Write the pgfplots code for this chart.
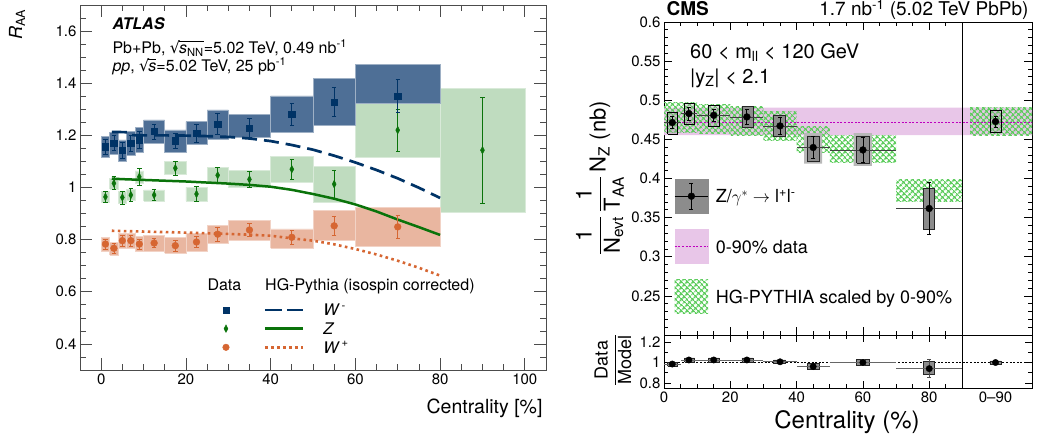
\documentclass[border=0pt]{standalone}
\usepackage{fontspec}
\setmainfont{TeX Gyre Heros}
\newfontfamily\dejavu{DejaVu Sans}
\usepackage{amsmath}
\usepackage{pgfplots}
\pgfplotsset{compat=1.18}
\usetikzlibrary{patterns.meta}

\definecolor{wmc}{RGB}{0,51,102}
\definecolor{wmbox}{RGB}{78,111,150}
\definecolor{zc}{RGB}{10,115,10}
\definecolor{zbox}{RGB}{191,220,191}
\definecolor{wpc}{RGB}{214,102,50}
\definecolor{wpbox}{RGB}{233,182,160}
\definecolor{bandc}{RGB}{232,198,232}
\definecolor{bandline}{RGB}{190,0,190}
\definecolor{hatchc}{RGB}{95,205,95}

\newcommand{\sysbox}[5]{\addplot[forget plot,#1] coordinates {(#2,#4) (#3,#4) (#3,#5) (#2,#5) (#2,#4)};}
\newcommand{\tsqrt}[1]{\begingroup\setbox0=\hbox{#1}{\dejavu\symbol{"221A}}\kern-0.06em\rlap{\rule[0.76em]{\wd0}{0.055em}}\box0\endgroup}

\tikzset{
 hatchsty/.style={pattern={Hatch[angle=45,distance=4pt,line width=1.4pt]}, pattern color=hatchc, draw=none},
 wmb/.style={fill=wmbox, draw=wmbox!55!white, line width=0.5pt},
 zb/.style={fill=zbox, draw=zbox!60!white, line width=0.5pt},
 wpb/.style={fill=wpbox, draw=wpbox!60!white, line width=0.5pt},
 cmsl/.style={fill=black!40, fill opacity=0.3, draw=black, line width=0.7pt},
 cmsf/.style={fill=black!45, draw=black!85, line width=0.7pt},
 cmso/.style={fill=black!28, draw=none},
}

\begin{document}
\begin{tikzpicture}
\useasboundingbox (0pt,0pt) rectangle (1037pt,439pt);

%================ ATLAS panel
\begin{axis}[
 at={(80pt,69pt)}, anchor=south west, scale only axis, width=466pt, height=365pt,
 xmin=-5, xmax=105, ymin=0.3, ymax=1.7,
 xtick={0,20,40,60,80,100},
 minor xtick={5,10,15,25,30,35,45,50,55,65,70,75,85,90,95},
 ytick={0.4,0.6,0.8,1,1.2,1.4,1.6},
 yticklabels={0.4,0.6,0.8,1,1.2,1.4,1.6},
 minor ytick={0.35,0.45,0.5,0.55,0.65,0.7,0.75,0.85,0.9,0.95,1.05,1.1,1.15,1.25,1.3,1.35,1.45,1.5,1.55,1.65},
 xtick pos=both, ytick pos=both, tick align=inside,
 major tick length=12pt, minor tick length=6pt,
 tick style={black!70, line width=0.7pt},
 axis line style={black!70, line width=0.8pt},
 tick label style={font=\fontsize{15}{18}\selectfont},
 /pgf/number format/assume math mode=true,
 legend style={draw=none, fill=none, inner sep=0pt, outer sep=0pt,
   at={(0.3062,0.1801)}, anchor=north west, font=\fontsize{16}{19}\selectfont,
   nodes={inner sep=0pt, text height=11.5pt, text depth=0pt},
   column sep=19pt, row sep=7.15pt},
 legend cell align=left,
]
% Z systematic boxes
\sysbox{zb}{0}{2}{0.943}{0.985}
\sysbox{zb}{2}{4}{0.994}{1.036}
\sysbox{zb}{4}{6}{0.940}{0.985}
\sysbox{zb}{6}{8}{0.950}{0.992}
\sysbox{zb}{8}{10}{1.017}{1.064}
\sysbox{zb}{10}{15}{0.949}{0.991}
\sysbox{zb}{15}{20}{1.049}{1.100}
\sysbox{zb}{20}{25}{0.949}{1.000}
\sysbox{zb}{25}{30}{1.017}{1.077}
\sysbox{zb}{30}{40}{1.000}{1.067}
\sysbox{zb}{40}{50}{1.022}{1.119}
\sysbox{zb}{50}{60}{0.943}{1.081}
\sysbox{zb}{60}{80}{1.115}{1.322}
\sysbox{zb}{80}{100}{0.905}{1.380}
% W+ boxes
\sysbox{wpb}{0}{2}{0.754}{0.809}
\sysbox{wpb}{2}{4}{0.742}{0.790}
\sysbox{wpb}{4}{6}{0.768}{0.824}
\sysbox{wpb}{6}{8}{0.768}{0.824}
\sysbox{wpb}{8}{10}{0.754}{0.813}
\sysbox{wpb}{10}{15}{0.757}{0.815}
\sysbox{wpb}{15}{20}{0.748}{0.809}
\sysbox{wpb}{20}{25}{0.757}{0.824}
\sysbox{wpb}{25}{30}{0.786}{0.856}
\sysbox{wpb}{30}{40}{0.796}{0.875}
\sysbox{wpb}{40}{50}{0.767}{0.841}
\sysbox{wpb}{50}{60}{0.796}{0.911}
\sysbox{wpb}{60}{80}{0.773}{0.924}
% W- boxes
\sysbox{wmb}{0}{2}{1.115}{1.196}
\sysbox{wmb}{2}{4}{1.128}{1.211}
\sysbox{wmb}{4}{6}{1.102}{1.183}
\sysbox{wmb}{6}{8}{1.124}{1.215}
\sysbox{wmb}{8}{10}{1.134}{1.230}
\sysbox{wmb}{10}{15}{1.170}{1.259}
\sysbox{wmb}{15}{20}{1.134}{1.221}
\sysbox{wmb}{20}{25}{1.166}{1.253}
\sysbox{wmb}{25}{30}{1.185}{1.298}
\sysbox{wmb}{30}{40}{1.192}{1.281}
\sysbox{wmb}{40}{50}{1.211}{1.351}
\sysbox{wmb}{50}{60}{1.240}{1.418}
\sysbox{wmb}{60}{80}{1.322}{1.473}
% HG-Pythia curves
\addplot[forget plot, zc, line width=2.5pt] coordinates {(2.5,1.034) (5,1.032) (10,1.029) (15,1.026) (20,1.023) (25,1.019) (30,1.015) (35,1.010) (40,1.003) (45,0.991) (50,0.975) (55,0.957) (60,0.935) (65,0.908) (70,0.877) (75,0.848) (80,0.818)};
\addplot[forget plot, wmc, line width=2.7pt, dash pattern=on 15pt off 7pt] coordinates {(2.5,1.213) (6.8,1.212) (7.2,1.201) (10,1.200) (15,1.200) (20,1.199) (25,1.197) (30,1.194) (35,1.188) (40,1.178) (45,1.163) (50,1.145) (55,1.122) (60,1.096) (65,1.067) (70,1.035) (75,0.999) (80,0.960)};
\addplot[forget plot, wpc, line width=2.6pt, dash pattern=on 2.6pt off 3.4pt] coordinates {(2.5,0.834) (10,0.831) (20,0.827) (30,0.822) (35,0.819) (40,0.815) (45,0.805) (50,0.796) (55,0.782) (60,0.764) (65,0.743) (70,0.719) (75,0.692) (80,0.662)};
% data points
\addplot[forget plot, only marks, mark=diamond*, mark size=3.8pt, mark options={xscale=0.7}, zc,
  error bars/.cd, y dir=both, y explicit, error bar style={line width=0.7pt},
  error mark options={rotate=90, mark size=2.2pt, line width=0.7pt, xscale=1}]
 table[x=c, y=r, y error=e] {
c r e
1 0.964 0.020
3 1.016 0.025
5 0.962 0.025
7 0.971 0.025
9 1.041 0.032
12.5 0.971 0.020
17.5 1.074 0.026
22.5 0.975 0.028
27.5 1.047 0.029
35 1.031 0.031
45 1.070 0.038
55 1.013 0.053
70 1.220 0.080
90 1.143 0.202
};
\addplot[forget plot, only marks, mark=*, mark size=3.4pt, wpc,
  error bars/.cd, y dir=both, y explicit, error bar style={line width=0.7pt},
  error mark options={rotate=90, mark size=2.2pt, line width=0.7pt}]
 table[x=c, y=r, y error=e] {
c r e
1 0.783 0.020
3 0.767 0.020
5 0.796 0.020
7 0.796 0.020
9 0.783 0.020
12.5 0.787 0.018
17.5 0.777 0.020
22.5 0.791 0.022
27.5 0.821 0.028
35 0.837 0.025
45 0.809 0.028
55 0.853 0.037
70 0.849 0.043
};
\addplot[forget plot, only marks, mark=square*, mark size=3.2pt, wmc,
  error bars/.cd, y dir=both, y explicit, error bar style={line width=0.7pt},
  error mark options={rotate=90, mark size=2.2pt, line width=0.7pt}]
 table[x=c, y=r, y error=e] {
c r e
1 1.157 0.029
3 1.171 0.030
5 1.143 0.030
7 1.169 0.030
9 1.183 0.031
12.5 1.215 0.029
17.5 1.179 0.029
22.5 1.208 0.035
27.5 1.243 0.040
35 1.228 0.037
45 1.281 0.041
55 1.328 0.057
70 1.351 0.062
};
% legend
\addlegendimage{legend image code/.code={
  \draw[wmc, fill=wmc, mark=square*, mark size=3.2pt] plot coordinates {(0pt,0pt)};
  \draw[wmc, line width=2.6pt, dash pattern=on 17pt off 5pt] (39pt,0pt) -- (77pt,0pt);}}
\addlegendentry{\textit{W}\textsuperscript{\,-}}
\addlegendimage{legend image code/.code={
  \draw[zc, fill=zc, mark=diamond*, mark size=3.8pt, mark options={xscale=0.7}] plot coordinates {(0pt,0pt)};
  \draw[zc, line width=2.5pt] (39pt,0pt) -- (77pt,0pt);}}
\addlegendentry{\textit{Z}}
\addlegendimage{legend image code/.code={
  \draw[wpc, fill=wpc, mark=*, mark size=3.3pt] plot coordinates {(0pt,0pt)};
  \draw[wpc, line width=2.5pt, dash pattern=on 2.6pt off 3.4pt] (39pt,0pt) -- (77pt,0pt);}}
\addlegendentry{\textit{W}\textsuperscript{\,+}}
\end{axis}

%================ CMS upper panel
\begin{axis}[
 at={(664pt,104pt)}, anchor=south west, scale only axis, width=368pt, height=313pt,
 xmin=0, xmax=111, ymin=0.2, ymax=0.6,
 xtick={0,20,40,60,80}, xticklabels={},
 minor xtick={5,10,15,25,30,35,45,50,55,65,70,75,85},
 ytick={0.2,0.25,0.3,0.35,0.4,0.45,0.5,0.55,0.6},
 yticklabels={,0.25,0.3,0.35,0.4,0.45,0.5,0.55,0.6},
 minor y tick num=4,
 xtick pos=both, ytick pos=both, tick align=inside,
 major tick length=8pt, minor tick length=4pt,
 tick style={black, line width=0.7pt},
 axis line style={black, line width=0.8pt},
 tick label style={font=\fontsize{15}{18}\selectfont},
 /pgf/number format/assume math mode=true,
 legend style={draw=none, fill=none, inner sep=0pt, outer sep=0pt,
   at={(0.028,0.4984)}, anchor=north west, font=\fontsize{18}{21}\selectfont,
   nodes={inner sep=0pt, text height=13pt, text depth=0pt},
   column sep=7.3pt, row sep=16pt},
 legend cell align=left,
]
% 0-90% band
\sysbox{fill=bandc, draw=none}{0}{111}{0.4553}{0.4906}
% HG-PYTHIA scaled (hatched)
\sysbox{hatchsty}{0}{5}{0.459}{0.497}
\sysbox{hatchsty}{5}{10}{0.459}{0.497}
\sysbox{hatchsty}{10}{20}{0.457}{0.494}
\sysbox{hatchsty}{20}{30}{0.455}{0.492}
\sysbox{hatchsty}{30}{40}{0.449}{0.485}
\sysbox{hatchsty}{40}{50}{0.433}{0.466}
\sysbox{hatchsty}{50}{70}{0.421}{0.455}
\sysbox{hatchsty}{70}{90}{0.370}{0.399}
\sysbox{hatchsty}{92.3}{111}{0.455}{0.491}
\addplot[forget plot, bandline, line width=0.8pt, dash pattern=on 2pt off 1.6pt] coordinates {(0,0.4723) (111,0.4723)};
% systematic boxes
\sysbox{cmsl}{1.1}{4.1}{0.457}{0.484}
\sysbox{cmsl}{6.2}{9.2}{0.469}{0.496}
\sysbox{cmsl}{13.4}{16.7}{0.4664}{0.4936}
\sysbox{cmsf}{23.5}{26.8}{0.465}{0.492}
\sysbox{cmsf}{33.1}{36.7}{0.4536}{0.481}
\sysbox{cmso}{42.3}{47.7}{0.419}{0.458}
\sysbox{cmsf}{43.2}{46.8}{0.4225}{0.4544}
\sysbox{cmso}{57.2}{62.7}{0.416}{0.458}
\sysbox{cmsf}{58.1}{61.8}{0.4195}{0.4544}
\sysbox{cmsf}{78.2}{81.5}{0.3352}{0.3872}
\sysbox{cmsl}{98.3}{101.7}{0.4587}{0.4872}
% horizontal bars
\addplot[forget plot, only marks, mark=none,
  error bars/.cd, x dir=both, x explicit, error mark=none, error bar style={black!75, line width=0.8pt}]
 table[x=c, y=v, x error=ex] {
c v ex
2.5 0.4715 2.5
7.5 0.4830 2.5
15 0.4808 5
25 0.4787 5
35 0.4672 5
45 0.4396 5
60 0.4365 10
80 0.3617 10
};
% points
\addplot[forget plot, only marks, mark=*, mark size=3.4pt, black,
  error bars/.cd, y dir=both, y explicit, error bar style={black, line width=0.8pt},
  error mark options={rotate=90, mark size=2pt, line width=0.8pt}]
 table[x=c, y=v, y error=e] {
c v e
2.5 0.4715 0.0077
7.5 0.4830 0.0085
15 0.4808 0.0080
25 0.4787 0.0096
35 0.4672 0.0107
45 0.4396 0.0140
60 0.4365 0.0164
80 0.3617 0.0335
100 0.4728 0.0070
};
\addplot[forget plot, black, line width=0.8pt] coordinates {(90,0.2) (90,0.6)};
% legend
\addlegendimage{legend image code/.code={
  \fill[black!45] (0pt,-17pt) rectangle (33.4pt,17pt);
  \draw[black, line width=0.8pt] (0pt,0pt) -- (33.4pt,0pt);
  \draw[black, line width=0.8pt] (16.7pt,-13pt) -- (16.7pt,13pt);
  \draw[black, line width=0.8pt] (14.7pt,-13pt) -- (18.7pt,-13pt);
  \draw[black, line width=0.8pt] (14.7pt,13pt) -- (18.7pt,13pt);
  \fill[black] (16.7pt,0pt) circle (3.4pt);}}
\addlegendentry{Z/$\gamma^{*}\rightarrow$ l\textsuperscript{+}l\textsuperscript{-}}
\addlegendimage{legend image code/.code={
  \fill[bandc] (0pt,-17pt) rectangle (33.4pt,17pt);
  \draw[bandline, line width=0.8pt, dash pattern=on 2pt off 1.6pt] (0pt,0pt) -- (33.4pt,0pt);}}
\addlegendentry{0-90\% data}
\addlegendimage{legend image code/.code={
  \fill[hatchsty] (0pt,-17pt) rectangle (33.4pt,17pt);}}
\addlegendentry{HG-PYTHIA scaled by 0-90\%}
\end{axis}

%================ CMS ratio panel
\begin{axis}[
 at={(664pt,51pt)}, anchor=south west, scale only axis, width=368pt, height=53pt,
 xmin=0, xmax=111, ymin=0.75, ymax=1.27,
 xtick={0,20,40,60,80},
 extra x ticks={100}, extra x tick labels={0--90}, extra x tick style={major tick length=0pt},
 minor xtick={5,10,15,25,30,35,45,50,55,65,70,75,85},
 ytick={0.8,1,1.2}, yticklabels={0.8,1,1.2},
 minor ytick={0.9,1.1},
 xtick pos=both, ytick pos=both, tick align=inside,
 major tick length=7pt, minor tick length=4pt,
 tick style={black, line width=0.7pt},
 axis line style={black, line width=0.8pt},
 tick label style={font=\fontsize{15}{18}\selectfont},
 /pgf/number format/assume math mode=true,
]
\addplot[forget plot, black, line width=0.8pt, dash pattern=on 2pt off 1.6pt] coordinates {(0,1) (111,1)};
\sysbox{cmsf}{1.1}{4.1}{0.965}{1.005}
\sysbox{cmsf}{6.2}{9.2}{1.005}{1.045}
\sysbox{cmsf}{13.4}{16.7}{1.005}{1.045}
\sysbox{cmsf}{23.5}{26.8}{1.005}{1.045}
\sysbox{cmsf}{33.1}{36.7}{0.990}{1.025}
\sysbox{cmsf}{43.2}{46.8}{0.930}{0.990}
\sysbox{cmsf}{58.1}{61.8}{0.970}{1.030}
\sysbox{cmsf}{78.2}{81.5}{0.880}{1.010}
\sysbox{cmsf}{98.3}{101.7}{0.985}{1.015}
\addplot[forget plot, only marks, mark=none,
  error bars/.cd, x dir=both, x explicit, error mark=none, error bar style={black!60, line width=0.8pt}]
 table[x=c, y=r, x error=ex] {
c r ex
2.5 0.985 2.5
7.5 1.025 2.5
15 1.025 5
25 1.025 5
35 1.007 5
45 0.960 5
60 1.000 10
80 0.940 10
};
\addplot[forget plot, only marks, mark=*, mark size=3.2pt, black,
  error bars/.cd, y dir=both, y explicit, error bar style={black!70, line width=0.8pt},
  error mark options={rotate=90, mark size=2pt, line width=0.8pt}]
 table[x=c, y=r, y error=e] {
c r e
2.5 0.985 0.012
7.5 1.025 0.012
15 1.025 0.012
25 1.025 0.014
35 1.007 0.015
45 0.960 0.020
60 1.000 0.030
80 0.940 0.090
100 1.000 0.010
};
\addplot[forget plot, black, line width=0.8pt] coordinates {(90,0.75) (90,1.27)};
\end{axis}

%================ texts
\node[anchor=base west, font=\fontsize{16}{19}\selectfont\bfseries\itshape] at (109pt,409pt) {ATLAS};
\node[anchor=base west, font=\fontsize{16}{19}\selectfont] at (109pt,385pt) {Pb+Pb, \tsqrt{\textit{s}\textsubscript{NN}}=5.02 TeV, 0.49 nb\textsuperscript{-1}};
\node[anchor=base west, font=\fontsize{16}{19}\selectfont] at (109pt,367pt) {\textit{pp}, \tsqrt{\textit{s}}=5.02 TeV, 25 pb\textsuperscript{-1}};
\node[anchor=base west, font=\fontsize{16}{19}\selectfont] at (204pt,148.3pt) {Data};
\node[anchor=base west, font=\fontsize{16}{19}\selectfont] at (261.7pt,148.3pt) {HG-Pythia (isospin corrected)};
\node[rotate=90, anchor=base east, font=\fontsize{18}{21}\selectfont] at (22pt,433pt) {\textit{R}\textsubscript{AA}};
\node[anchor=base east, font=\fontsize{19.5}{23}\selectfont] at (546pt,25pt) {Centrality [\%]};

\node[anchor=base west, font=\fontsize{19}{22}\selectfont\bfseries] at (663pt,423pt) {CMS};
\node[anchor=base east, font=\fontsize{19}{22}\selectfont] at (1032pt,423pt) {1.7 nb\textsuperscript{-1} (5.02 TeV PbPb)};
\node[anchor=base west, font=\fontsize{20}{24}\selectfont] at (686.7pt,380.7pt) {60 < m\textsubscript{ll} < 120 GeV};
\node[anchor=base west, font=\fontsize{20}{24}\selectfont] at (686.7pt,355.7pt) {|y\textsubscript{Z}| < 2.1};
\node[rotate=90, font=\fontsize{22}{26}\selectfont] at (600pt,261pt) {$\dfrac{\text{1}}{\text{N}_{\text{evt}}}\,\dfrac{\text{1}}{\text{T}_{\text{AA}}}\,\text{N}_{\text{Z}}$ (nb)};
\node[rotate=90, font=\fontsize{18}{21}\selectfont] at (613pt,79pt) {$\dfrac{\text{Data}}{\text{Model}}$};
\node[anchor=base, font=\fontsize{24}{28}\selectfont] at (847pt,10.7pt) {Centrality (\%)};
\end{tikzpicture}
\end{document}
